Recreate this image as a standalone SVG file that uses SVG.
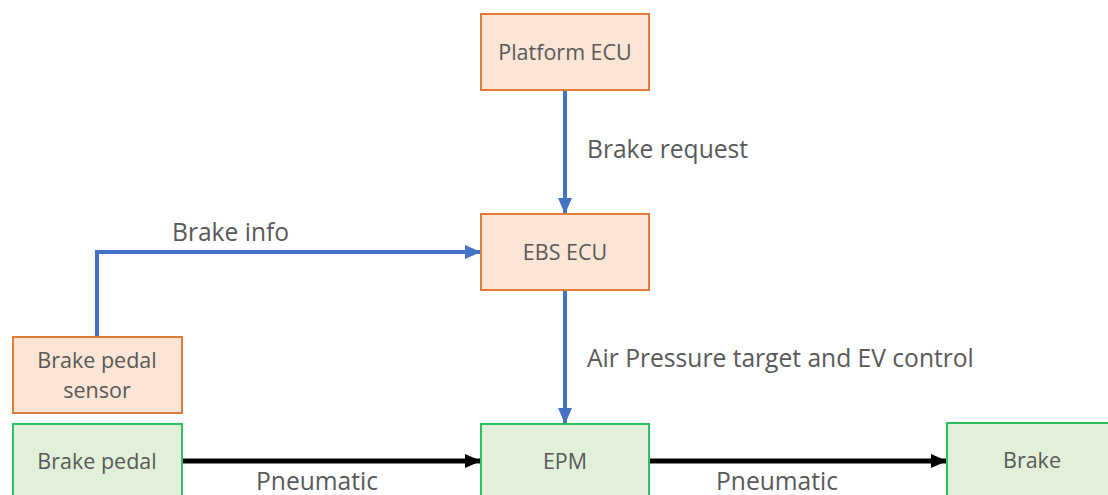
<svg xmlns="http://www.w3.org/2000/svg" width="1108" height="495" viewBox="0 0 1108 495">
  <style>
    .ecu { fill: #FBE5D6; stroke: #E07B39; stroke-width: 2; }
    .mech { fill: #E2F0D9; stroke: #2DC060; stroke-width: 2; }
    text { font-family: "Open Sans", "Liberation Sans", sans-serif; font-size: 24.6px; fill: #595959; }
    .c { text-anchor: middle; font-size: 21.5px; }
    .sig { fill: none; stroke: #4472C4; stroke-width: 4; }
    .pn { fill: none; stroke: #000000; stroke-width: 5; }
  </style>
  <defs>
    <marker id="ab" markerUnits="userSpaceOnUse" markerWidth="16" markerHeight="16" viewBox="0 0 16 16" refX="16" refY="8" orient="auto">
      <path d="M0,1 L16,8 L0,15 Z" fill="#4472C4"/>
    </marker>
    <marker id="ak" markerUnits="userSpaceOnUse" markerWidth="16" markerHeight="16" viewBox="0 0 16 16" refX="16" refY="8" orient="auto">
      <path d="M0,1 L16,8 L0,15 Z" fill="#000000"/>
    </marker>
  </defs>

  <g id="connectors">
    <path class="sig" d="M565,90 L565,214" marker-end="url(#ab)"/>
    <path class="sig" d="M97,337 L97,252 L481,252" marker-end="url(#ab)"/>
    <path class="sig" d="M565,290 L565,424" marker-end="url(#ab)"/>
    <path class="pn" d="M182,461 L481,461" marker-end="url(#ak)"/>
    <path class="pn" d="M649,461 L947,461" marker-end="url(#ak)"/>
    <text x="587" y="158">Brake request</text>
    <text x="172" y="241">Brake info</text>
    <text x="587" y="367">Air Pressure target and EV control</text>
    <text x="256" y="490">Pneumatic</text>
    <text x="716" y="490">Pneumatic</text>
  </g>

  <g id="platform-ecu">
    <rect class="ecu" x="481" y="14" width="168" height="76"/>
    <text class="c" x="565" y="60">Platform ECU</text>
  </g>
  <g id="ebs-ecu">
    <rect class="ecu" x="481" y="214" width="168" height="76"/>
    <text class="c" x="565" y="260">EBS ECU</text>
  </g>
  <g id="brake-pedal-sensor">
    <rect class="ecu" x="13" y="337" width="169" height="76"/>
    <text class="c" x="97" y="368">Brake pedal</text>
    <text class="c" x="97" y="398">sensor</text>
  </g>
  <g id="brake-pedal">
    <rect class="mech" x="13" y="424" width="169" height="80"/>
    <text class="c" x="97" y="469">Brake pedal</text>
  </g>
  <g id="epm">
    <rect class="mech" x="481" y="424" width="168" height="80"/>
    <text class="c" x="565" y="469">EPM</text>
  </g>
  <g id="brake">
    <rect class="mech" x="947" y="423" width="170" height="80"/>
    <text class="c" x="1032" y="468">Brake</text>
  </g>
</svg>
